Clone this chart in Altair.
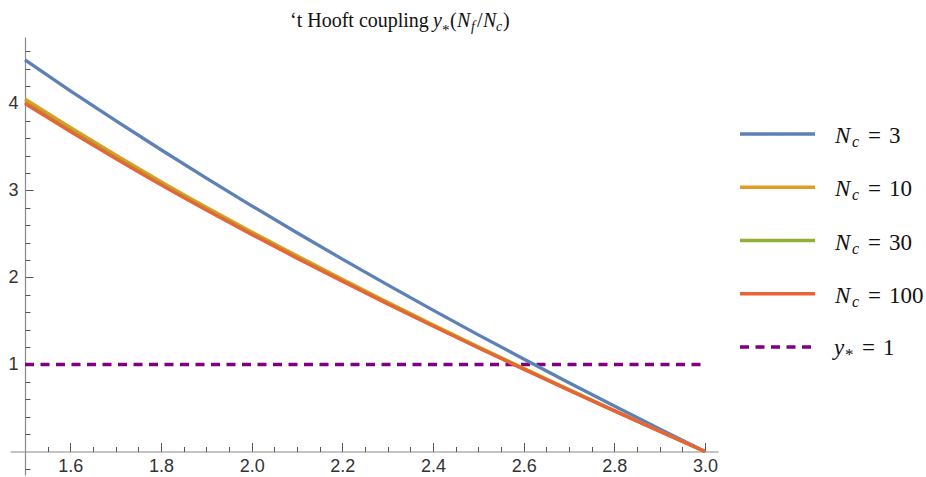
import altair as alt
import pandas as pd

# ---------------- data ----------------
x_vals = [1.5, 1.6, 1.7, 1.8, 1.9, 2.0, 2.1, 2.2, 2.3, 2.4, 2.5, 2.6, 2.7, 2.8, 2.9, 3.0]
y_nc3 = [4.500, 4.146, 3.802, 3.468, 3.142, 2.824, 2.514, 2.211, 1.915, 1.625,
         1.341, 1.063, 0.790, 0.522, 0.259, 0.000]
y_nc10 = [4.050, 3.724, 3.408, 3.102, 2.808, 2.524, 2.249, 1.980, 1.716, 1.458,
          1.205, 0.957, 0.713, 0.472, 0.234, 0.000]
y_nc30 = [4.016, 3.693, 3.380, 3.076, 2.785, 2.504, 2.231, 1.964, 1.703, 1.447,
          1.196, 0.950, 0.708, 0.469, 0.233, 0.000]
y_nc100 = [4.000, 3.678, 3.366, 3.064, 2.774, 2.494, 2.222, 1.956, 1.696, 1.441,
           1.191, 0.946, 0.705, 0.467, 0.232, 0.000]

series_names = ["Nc=3", "Nc=10", "Nc=30", "Nc=100"]
ref_name = "y*=1"
ref_level = [1.0]
ref_x_start = [1.5]
ref_x_end = [3.0]

legend_letters = ["N", "N", "N", "N", "y"]
legend_subs = ["c", "c", "c", "c", "*"]
legend_values = ["3", "10", "30", "100", "1"]
legend_kinds = ["N", "N", "N", "N", "y"]

x_major_ticks = [1.6, 1.8, 2.0, 2.2, 2.4, 2.6, 2.8, 3.0]
x_minor_ticks = [1.55, 1.65, 1.7, 1.75, 1.85, 1.9, 1.95, 2.05, 2.1, 2.15, 2.25, 2.3,
                 2.35, 2.45, 2.5, 2.55, 2.65, 2.7, 2.75, 2.85, 2.9, 2.95]
y_major_ticks = [1, 2, 3, 4]
y_minor_ticks = [-0.2, 0.2, 0.4, 0.6, 0.8, 1.2, 1.4, 1.6, 1.8, 2.2, 2.4, 2.6, 2.8,
                 3.2, 3.4, 3.6, 3.8, 4.2, 4.4, 4.6]

# ---------------- style / layout ----------------
series_colors = ["#5E81B5", "#E19C24", "#8FB032", "#EB6235"]
ref_color = "#800080"
SERIF = "Liberation Serif"
SANS = "Liberation Sans"

PAD_L, PAD_T = 10, 37
W, H = 708, 438
PAD_R = 926 - PAD_L - W
PAD_B = 477 - PAD_T - H

X_DOMAIN = [1.4669, 3.0287]
Y_DOMAIN = [-0.270, 4.764]
X_AXIS_POS = 451.5 - PAD_T   # pixel row of y = 0 inside plot
Y_AXIS_POS = 25 - PAD_L      # pixel column of x = 1.5 inside plot

XS = alt.Scale(domain=X_DOMAIN, nice=False, zero=False)
YS = alt.Scale(domain=Y_DOMAIN, nice=False, zero=False)
all_entries = series_names + [ref_name]
COLOR_SCALE = alt.Scale(domain=all_entries, range=series_colors + [ref_color])

# ---------------- tables ----------------
rows = []
for name, ys in zip(series_names, [y_nc3, y_nc10, y_nc30, y_nc100]):
    for xv, yv in zip(x_vals, ys):
        rows.append({"series": name, "x": xv, "y": yv})
df_lines = pd.DataFrame(rows)
df_ref = pd.DataFrame({"x0": ref_x_start, "x1": ref_x_end, "level": ref_level})
df_leg = pd.DataFrame({"entry": all_entries, "letter": legend_letters, "sub": legend_subs,
                       "val": legend_values, "kind": legend_kinds})

# ---------------- axes ----------------
tick_color = "#555555"
dom_color = "#8a8a8a"
x_label_axis = alt.Axis(orient="bottom", offset=-(H - X_AXIS_POS), values=x_major_ticks,
                        ticks=False, tickSize=0, domain=False, grid=False, format=".1f",
                        labelFont=SANS, labelFontSize=18, labelColor="#333333",
                        labelPadding=6, labelFlush=False, labelOverlap=False, title=None)
x_major_axis = alt.Axis(orient="top", offset=-X_AXIS_POS, values=x_major_ticks,
                        tickSize=9, tickColor=tick_color, tickWidth=1, domain=True,
                        domainColor=dom_color, domainWidth=1.2, labels=False, grid=False,
                        title=None)
x_minor_axis = alt.Axis(orient="top", offset=-X_AXIS_POS, values=x_minor_ticks,
                        tickSize=5, tickColor=tick_color, tickWidth=1, domain=False,
                        labels=False, grid=False, title=None)
y_label_axis = alt.Axis(orient="left", offset=-Y_AXIS_POS, values=y_major_ticks,
                        ticks=False, tickSize=0, domain=False, grid=False, format="d",
                        labelFont=SANS, labelFontSize=18, labelColor="#333333",
                        labelPadding=7, labelFlush=False, labelOverlap=False, title=None)
y_major_axis = alt.Axis(orient="right", offset=-(W - Y_AXIS_POS), values=y_major_ticks,
                        tickSize=8, tickColor=tick_color, tickWidth=1, domain=True,
                        domainColor=dom_color, domainWidth=1.2, labels=False, grid=False,
                        title=None)
y_minor_axis = alt.Axis(orient="right", offset=-(W - Y_AXIS_POS), values=y_minor_ticks,
                        tickSize=5, tickColor=tick_color, tickWidth=1, domain=False,
                        labels=False, grid=False, title=None)

axis_sets = [(x_label_axis, y_label_axis), (x_major_axis, y_major_axis),
             (x_minor_axis, y_minor_axis), (None, None)]

layers = []
# dashed reference line
layers.append(
    alt.Chart(df_ref).mark_rule(color=ref_color, strokeWidth=3.6, strokeDash=[9, 6.5])
    .encode(x=alt.X("x0:Q", scale=XS, axis=None), x2="x1:Q",
            y=alt.Y("level:Q", scale=YS, axis=None))
)
# curves (blue, orange, green, red – red on top)
for name, (ax_x, ax_y) in zip(series_names, axis_sets):
    layers.append(
        alt.Chart(df_lines).transform_filter(alt.datum.series == name)
        .mark_line(strokeWidth=3.3, interpolate="monotone")
        .encode(x=alt.X("x:Q", scale=XS, axis=ax_x),
                y=alt.Y("y:Q", scale=YS, axis=ax_y),
                color=alt.Color("series:N", scale=COLOR_SCALE, legend=None))
    )

# ---------------- custom legend ----------------
LEG_Y = alt.Scale(type="point", domain=all_entries, range=[134 - PAD_T, 347 - PAD_T], padding=0)
leg_y = alt.Y("entry:N", scale=LEG_Y, axis=None)
layers.append(
    alt.Chart(df_leg).mark_rule(strokeWidth=3.3)
    .encode(x=alt.value(740 - PAD_L), x2=alt.value(815 - PAD_L), y=leg_y,
            color=alt.Color("entry:N", scale=COLOR_SCALE, legend=None),
            strokeDash=alt.StrokeDash("entry:N", legend=None,
                                      scale=alt.Scale(domain=all_entries,
                                                      range=[[1, 0], [1, 0], [1, 0], [1, 0], [9, 6.5]])))
)


def leg_text(field, x_abs, kind, size, style, dy):
    return (alt.Chart(df_leg).transform_filter(alt.datum.kind == kind)
            .mark_text(align="left", baseline="alphabetic", font=SERIF, fontSize=size,
                       fontStyle=style, dy=dy, color="#111111")
            .encode(x=alt.value(x_abs - PAD_L), y=leg_y, text=f"{field}:N"))


layers += [
    leg_text("letter", 835, "N", 23, "italic", 9),
    leg_text("sub", 852, "N", 16, "italic", 13),
    leg_text("val", 889, "N", 23, "normal", 9),
    leg_text("letter", 834, "y", 23, "italic", 8),
    leg_text("sub", 845, "y", 17, "normal", 13),
    leg_text("val", 883, "y", 23, "normal", 8),
]
# equal signs
for kind, xa, dy in [("N", 868, 9), ("y", 862, 8)]:
    layers.append(
        alt.Chart(df_leg).transform_filter(alt.datum.kind == kind)
        .mark_text(text="=", align="left", baseline="alphabetic", font=SERIF, fontSize=23,
                   dy=dy, color="#111111")
        .encode(x=alt.value(xa - PAD_L), y=leg_y)
    )


# ---------------- title pieces ----------------
def tpiece(text, x_abs, y_abs, size, style="normal"):
    return (alt.Chart(pd.DataFrame({"t": [text]}))
            .mark_text(text=text, align="left", baseline="alphabetic", font=SERIF,
                       fontSize=size, fontStyle=style, color="#111111")
            .encode(x=alt.value(x_abs - PAD_L), y=alt.value(y_abs - PAD_T)))


TB = 27
T0 = 290
layers += [
    tpiece("\u2018t Hooft coupling", T0, TB, 20),
    tpiece("y", T0 + 143, TB, 20, "italic"),
    tpiece("*", T0 + 152, TB + 8, 15),
    tpiece("(", T0 + 160, TB, 20),
    tpiece("N", T0 + 167, TB, 20, "italic"),
    tpiece("f", T0 + 181, TB + 4, 14, "italic"),
    tpiece("/", T0 + 187, TB, 20),
    tpiece("N", T0 + 193, TB, 20, "italic"),
    tpiece("c", T0 + 206, TB + 4, 14, "italic"),
    tpiece(")", T0 + 213, TB, 20),
]

chart = (
    alt.layer(*layers)
    .resolve_scale(y="independent")
    .resolve_axis(x="independent", y="independent")
    .properties(width=W, height=H,
                padding={"left": PAD_L, "top": PAD_T, "right": PAD_R, "bottom": PAD_B},
                autosize=alt.AutoSizeParams(type="none"), background="white")
    .configure_view(stroke=None)
)

chart.save("out.html", embed_options={"renderer": "svg", "actions": False})
